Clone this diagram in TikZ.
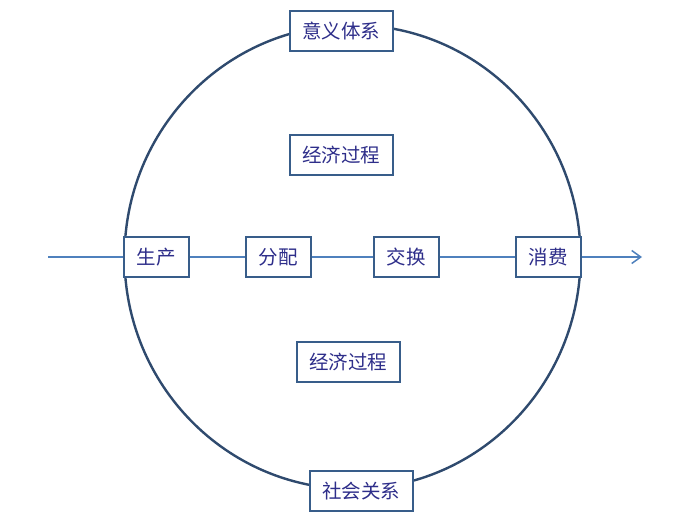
\documentclass[tikz,border=0pt]{standalone}
\usepackage{fontspec}
\newfontfamily\cjk{Noto Sans CJK SC}
\usetikzlibrary{arrows.meta}
\definecolor{flow}{HTML}{4F81BD}
\definecolor{boxline}{HTML}{385D8A}
\definecolor{ring}{HTML}{2F4A6E}
\definecolor{txt}{HTML}{2E2E8A}
\begin{document}
\begin{tikzpicture}[x=1pt,y=-1pt,
  lbl/.style={draw=boxline,line width=2pt,fill=white,text=txt,
    font=\cjk\fontsize{19.5}{21}\selectfont,minimum height=40pt,inner sep=0pt,anchor=center},
  wide/.style={lbl,minimum width=103pt},
  narrow/.style={lbl,minimum width=65pt},
  flowline/.style={draw=flow,line width=1.5pt}]
\useasboundingbox (0,0) rectangle (693,525);
\fill[white] (0,0) rectangle (693,525);
\draw[ring,line width=2.4pt] (352.5,257) ellipse [x radius=228, y radius=232];
\coordinate (start) at (48,257);
\coordinate (end) at (642,257);
\node[wide] (top) at (341,31) {意义体系};
\node[wide] (econ1) at (341,155) {经济过程};
\node[wide] (econ2) at (348,362) {经济过程};
\node[wide] (social) at (361,491) {社会关系};
\node[narrow] (prod) at (156,257) {生产};
\node[narrow] (dist) at (278,257) {分配};
\node[narrow] (exch) at (406,257) {交换};
\node[narrow] (cons) at (548,257) {消费};
\draw[flowline] (start) -- (prod);
\draw[flowline] (prod) -- (dist);
\draw[flowline] (dist) -- (exch);
\draw[flowline] (exch) -- (cons);
\draw[flowline,-{Straight Barb[length=9pt,width=13pt,line width=1.5pt]}] (cons) -- (end);
\end{tikzpicture}
\end{document}
